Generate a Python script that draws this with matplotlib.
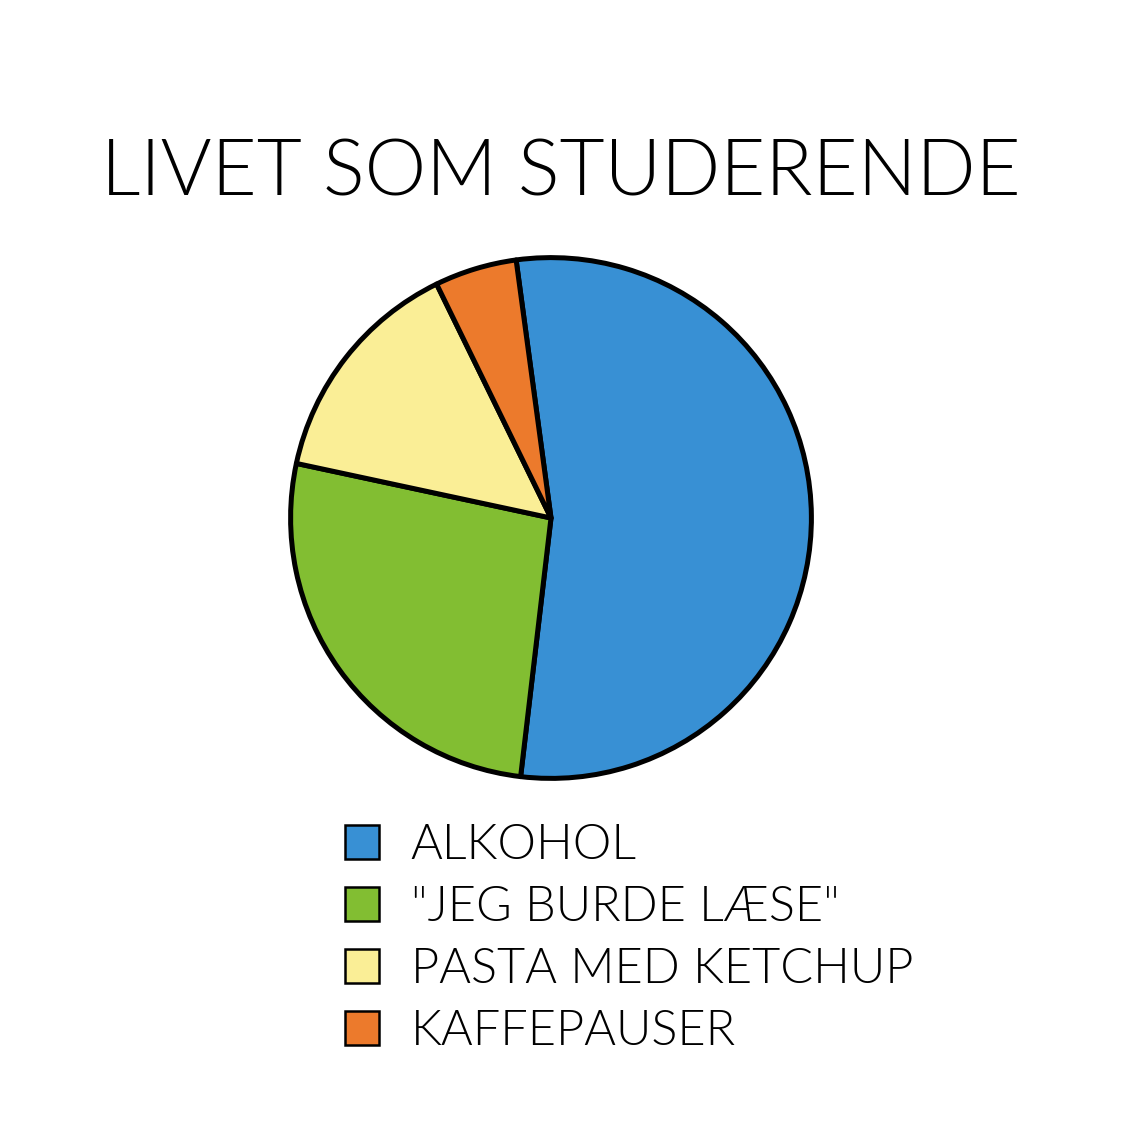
import matplotlib
matplotlib.use("Agg")
import matplotlib.pyplot as plt

title = "LIVET SOM STUDERENDE"
labels = ["ALKOHOL", "\"JEG BURDE LÆSE\"", "PASTA MED KETCHUP", "KAFFEPAUSER"]
values = [54.0, 26.5, 14.4, 5.1]
colors = ["#3890D4", "#82BE32", "#FAEE96", "#EC7A2C"]

plt.rcParams['font.family'] = ['Lato', 'DejaVu Sans']

W = 1123
fig = plt.figure(figsize=(W / 100, W / 100), dpi=100)
fig.patch.set_facecolor("white")

cx, cy, r = 551, 518, 263
ax = fig.add_axes([(cx - r) / W, (W - cy - r) / W, 2 * r / W, 2 * r / W])
wedges, _ = ax.pie(values, colors=colors, startangle=97.7, counterclock=False,
                   wedgeprops=dict(edgecolor="black", linewidth=3.6, joinstyle="round"))
ax.set_xlim(-1.01, 1.01)
ax.set_ylim(-1.01, 1.01)
ax.set_aspect("equal")
ax.axis("off")

fig.text(561 / W, 1 - 174 / W, title, ha="center", va="center",
         fontsize=56, fontweight=300, color="black")

leg = fig.legend(wedges, labels, loc="upper left",
                 bbox_to_anchor=(345 / W, 1 - 823 / W), frameon=False,
                 prop=dict(size=35, weight=300),
                 handlelength=0.7, handleheight=0.7, handletextpad=0.65,
                 labelspacing=0.35, borderpad=0, borderaxespad=0)
for h in leg.legend_handles:
    h.set_linewidth(1.8)

fig.savefig("out.png", dpi=100, facecolor="white")
